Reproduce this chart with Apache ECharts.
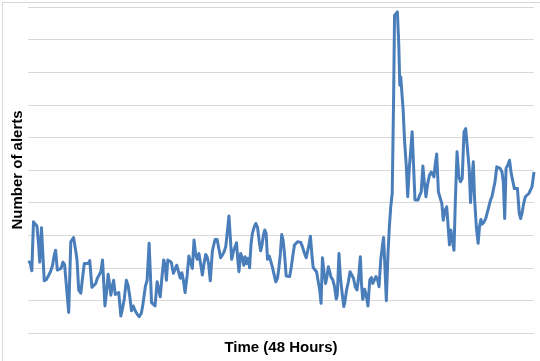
<!DOCTYPE html>
<html>
<head>
<meta charset="utf-8">
<script src="https://cdn.jsdelivr.net/npm/echarts@6/dist/echarts.min.js"></script>
<style>
html,body{margin:0;padding:0;background:#fff;}
#chart{width:540px;height:361px;}
</style>
</head>
<body>
<div id="chart"></div>
<script>
var yAxisTitle = "Number of alerts";
var xAxisTitle = "Time (48 Hours)";
// time of each reading, in hours (0..48)
var hours = [
0.00,0.20,0.36,0.52,0.69,0.85,1.02,1.11,1.28,1.41,1.54,1.74,1.90,2.13,2.33,2.49,2.62,2.78,2.95,3.14,
3.31,3.47,3.60,3.86,4.06,4.19,4.32,4.52,4.65,4.81,5.01,5.17,5.34,5.50,5.70,5.86,6.06,6.22,6.42,6.58,
6.75,6.91,7.07,7.30,7.47,7.60,7.73,7.86,7.99,8.12,8.28,8.45,8.61,8.81,8.97,9.14,9.33,9.50,9.66,9.82,
9.99,10.15,10.35,10.54,10.74,10.87,11.00,11.13,11.30,11.49,11.72,11.89,12.05,12.25,12.38,12.54,12.71,12.87,13.00,13.13,
13.26,13.43,13.59,13.79,13.95,14.11,14.28,14.44,14.60,14.74,14.90,15.10,15.26,15.42,15.59,15.75,15.91,16.05,16.21,16.37,
16.54,16.70,16.86,16.99,17.13,17.29,17.49,17.62,17.75,17.94,18.08,18.27,18.44,18.60,18.76,18.93,19.06,19.19,19.32,19.48,
19.65,19.78,19.91,20.01,20.17,20.30,20.47,20.60,20.73,20.89,21.02,21.15,21.28,21.45,21.61,21.78,21.94,22.07,22.20,22.33,
22.46,22.59,22.72,22.89,23.02,23.18,23.35,23.51,23.67,23.81,23.94,24.07,24.20,24.33,24.49,24.66,24.82,24.98,25.15,25.28,
25.41,25.57,25.70,25.87,26.03,26.23,26.39,26.52,26.65,26.79,26.92,27.05,27.21,27.37,27.51,27.67,27.80,27.93,28.09,28.23,
28.36,28.49,28.62,28.75,28.91,29.08,29.24,29.34,29.50,29.63,29.80,29.96,30.06,30.22,30.39,30.55,30.71,30.88,31.04,31.21,
31.37,31.53,31.63,31.76,31.93,32.09,32.25,32.42,32.58,32.71,32.88,33.01,33.17,33.30,33.46,33.63,33.73,33.86,33.99,34.15,
34.28,34.41,34.55,34.68,34.77,34.91,35.04,35.17,35.27,35.36,35.46,35.59,35.72,35.89,36.02,36.18,36.31,36.44,36.58,36.71,
36.87,37.00,37.16,37.30,37.46,37.59,37.75,37.92,38.08,38.25,38.38,38.51,38.64,38.77,38.93,39.10,39.26,39.39,39.56,39.72,
39.88,39.98,40.11,40.24,40.41,40.54,40.70,40.87,41.03,41.19,41.36,41.52,41.68,41.85,41.98,42.11,42.24,42.37,42.53,42.70,
42.83,42.96,43.09,43.26,43.42,43.55,43.71,43.88,44.01,44.17,44.30,44.47,44.63,44.79,44.96,45.09,45.22,45.35,45.51,45.68,
45.84,45.97,46.14,46.30,46.43,46.60,46.73,46.86,47.02,47.18,47.35,47.51,47.68,47.81,48.00
];
var alerts = [
21.9,21.7,19.1,34.1,33.8,32.8,26.5,21.7,32.3,32.1,16.0,16.4,17.3,18.8,20.8,23.9,25.4,19.3,19.1,19.8,
21.7,21.0,20.6,6.3,28.0,28.5,29.3,25.4,22.4,13.2,12.2,16.8,21.3,21.3,21.3,22.2,14.0,14.4,15.2,16.8,
17.8,18.8,22.4,8.3,13.2,18.0,15.2,11.6,14.2,16.2,11.8,12.2,12.4,5.2,7.6,10.6,16.2,14.5,11.1,6.8,
8.3,7.0,5.8,5.0,6.0,8.1,11.1,14.2,16.2,27.5,9.3,8.9,8.3,15.7,15.2,11.1,17.3,22.4,20.8,16.2,
22.4,22.2,21.7,18.3,19.6,20.8,20.3,16.8,18.5,16.2,12.4,17.8,23.6,23.2,19.8,28.5,23.9,22.6,24.4,21.3,
17.8,21.3,24.1,23.4,21.3,16.0,25.2,27.0,28.7,28.7,28.3,23.1,23.9,24.9,26.5,31.6,35.9,29.5,22.6,24.9,
26.5,27.7,22.2,18.8,24.4,23.4,20.8,23.4,21.3,22.9,20.0,27.0,30.5,32.4,33.6,32.3,28.0,25.2,27.0,30.0,
31.6,30.5,22.6,23.6,23.4,20.3,17.8,15.7,16.8,20.3,24.4,30.2,28.5,24.4,17.5,17.1,17.3,20.3,24.4,27.0,
27.0,28.0,28.5,27.8,26.5,24.4,23.1,22.9,27.0,29.7,24.4,20.1,19.5,18.8,19.3,13.2,9.1,23.1,18.3,15.2,
17.3,20.3,18.8,17.1,16.4,14.2,10.4,11.6,24.4,17.3,12.2,8.1,9.6,13.2,15.7,18.8,18.3,16.8,14.2,13.2,
17.3,23.4,15.2,10.3,13.4,11.6,8.3,16.2,17.0,15.2,16.4,17.3,16.2,14.2,22.4,27.0,29.3,20.3,9.9,24.4,
32.6,38.7,42.8,71.4,97.4,98.0,98.5,88.8,76.0,78.5,78.5,68.3,59.1,51.0,41.8,51.0,56.1,61.7,51.0,40.8,
40.8,40.8,42.3,43.3,51.2,46.4,41.8,45.9,48.4,49.4,48.9,47.9,52.0,54.9,43.3,42.8,39.7,34.6,37.7,38.7,
31.6,27.0,31.6,31.1,25.4,40.8,55.6,47.9,46.4,47.4,61.7,62.7,63.2,50.5,40.0,46.9,52.5,40.8,32.6,27.5,
32.6,34.8,33.4,34.1,35.1,36.7,38.7,40.8,41.8,41.5,46.4,51.0,51.0,50.5,49.4,46.4,35.1,50.5,51.5,53.0,
48.9,46.9,44.3,44.8,44.3,36.7,35.1,36.7,39.7,41.8,42.3,42.8,43.3,44.8,49.4
];
var xMin = 0, xMax = 48;
var yMin = 0, yMax = 100, yStep = 10;

var seriesData = hours.map(function (h, i) { return [h, alerts[i]]; });

var chart = echarts.init(document.getElementById('chart'), null, {renderer: 'canvas'});
chart.setOption({
  backgroundColor: '#ffffff',
  animation: false,
  graphic: [{
    type: 'rect', left: 0, top: 0, silent: true,
    shape: {x: 0.5, y: 0.5, width: 539, height: 360},
    style: {fill: 'none', stroke: '#d9d9d9', lineWidth: 1}
  }],
  grid: {left: 28, right: 6, top: 7, bottom: 28, containLabel: false, outerBoundsMode: 'none'},
  xAxis: {
    type: 'value',
    min: xMin, max: xMax,
    axisLine: {show: false},
    axisTick: {show: false},
    axisLabel: {show: false},
    splitLine: {show: false},
    name: xAxisTitle,
    nameLocation: 'middle',
    nameGap: 7,
    nameTextStyle: {fontFamily: 'Liberation Sans', fontWeight: 'bold', fontSize: 15, color: '#000'}
  },
  yAxis: {
    type: 'value',
    min: yMin, max: yMax, interval: yStep,
    axisLine: {show: false},
    axisTick: {show: false},
    axisLabel: {show: false},
    splitLine: {show: true, lineStyle: {color: '#d9d9d9', width: 1}},
    name: yAxisTitle,
    nameLocation: 'middle',
    nameGap: 3,
    nameRotate: 90,
    nameTextStyle: {fontFamily: 'Liberation Sans', fontWeight: 'bold', fontSize: 15, color: '#000'}
  },
  series: [{
    type: 'line',
    data: seriesData,
    showSymbol: false,
    symbol: 'none',
    lineStyle: {color: '#4a7ebb', width: 3, join: 'round'},
    itemStyle: {color: '#4a7ebb'}
  }]
});
</script>
</body>
</html>
